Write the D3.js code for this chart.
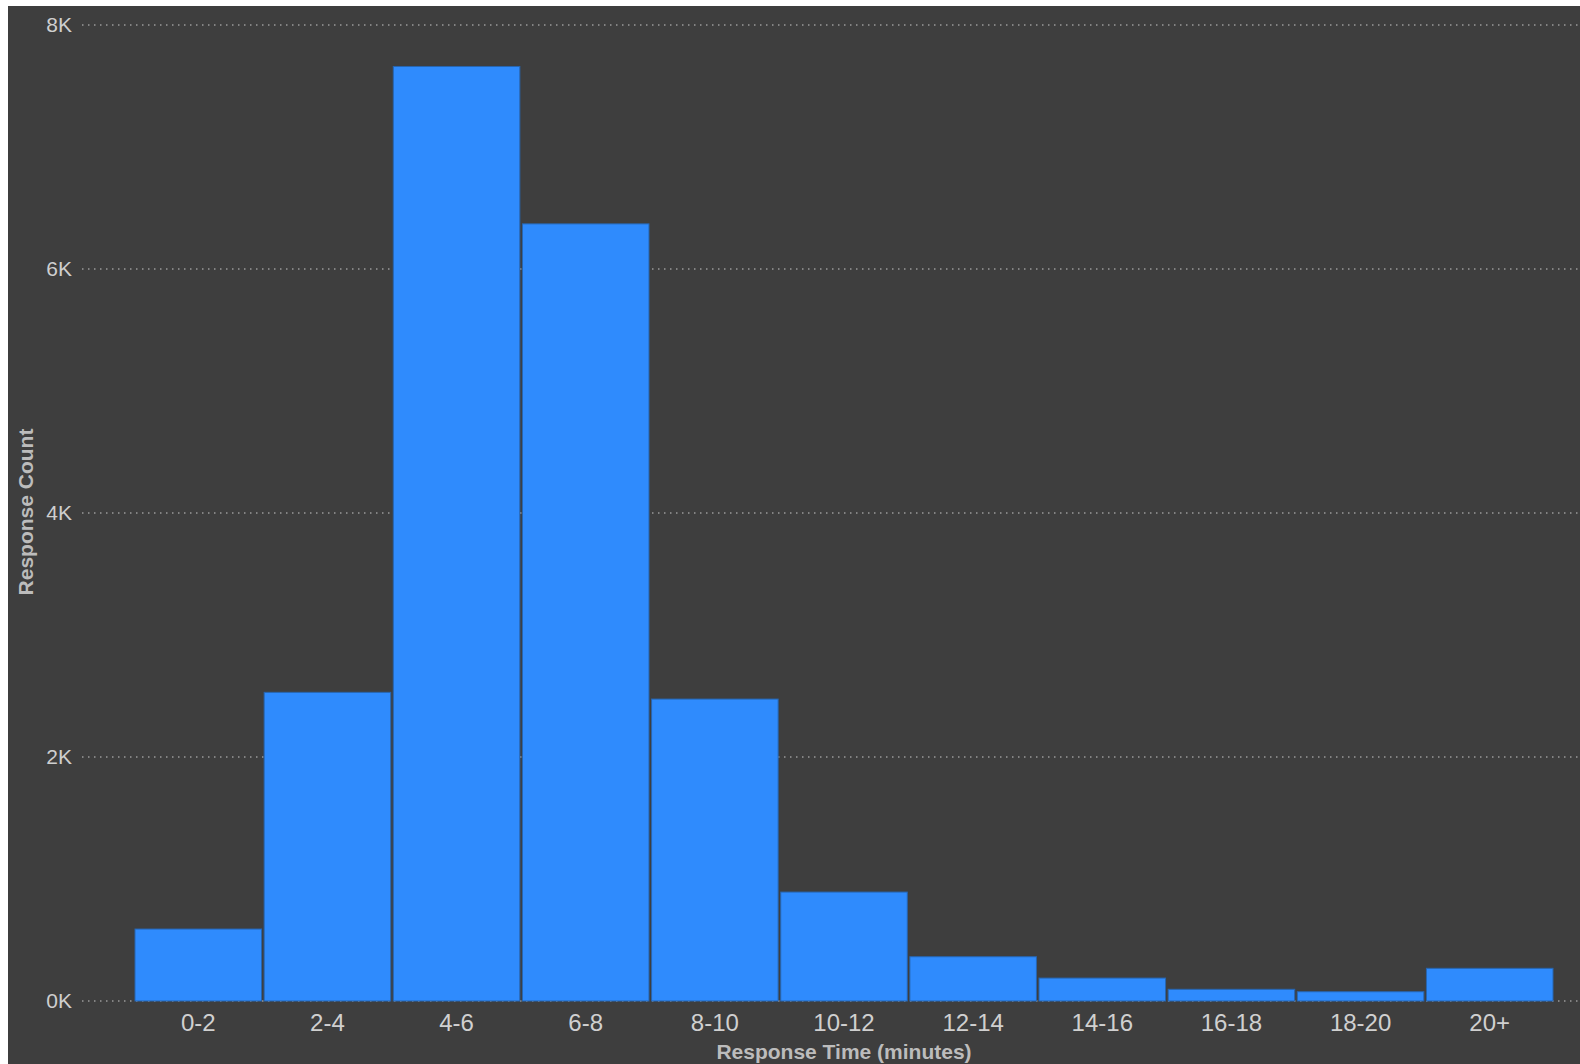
<!DOCTYPE html>
<html>
<head>
<meta charset="utf-8">
<script src="https://cdn.jsdelivr.net/npm/d3@7"></script>
<style>
  html, body { margin: 0; padding: 0; background: #ffffff; }
  svg { display: block; }
</style>
</head>
<body>
<svg id="chart" width="1580" height="1064"></svg>
<script>
const categories = ["0-2","2-4","4-6","6-8","8-10","10-12","12-14","14-16","16-18","18-20","20+"];
const counts = [590, 2530, 7660, 6370, 2475, 893, 363, 188, 96, 76, 268];
const yTicks = [0, 2000, 4000, 6000, 8000];
const xTitle = "Response Time (minutes)";
const yTitle = "Response Count";

const svg = d3.select("#chart");
const W = 1580, H = 1064;

svg.append("rect").attr("x", 8).attr("y", 6).attr("width", W - 8).attr("height", H - 6).attr("fill", "#3e3e3e");

const x = d3.scaleBand().domain(categories).range([135, 1553]).paddingInner(0.02).paddingOuter(0);
const y = d3.scaleLinear().domain([0, 8000]).range([1001, 25]);

// gridlines
svg.append("g").selectAll("line").data(yTicks).join("line")
  .attr("x1", 82).attr("x2", W)
  .attr("y1", d => y(d)).attr("y2", d => y(d))
  .attr("stroke", "#9a9a9a").attr("stroke-width", 1.3)
  .attr("stroke-dasharray", "1.5,4.5");

// y axis
const yAxis = svg.append("g").attr("transform", "translate(72,0)")
  .call(d3.axisLeft(y).tickValues(yTicks).tickSize(0).tickPadding(0).tickFormat(d => (d / 1000) + "K"));
yAxis.select(".domain").remove();
yAxis.selectAll("text").attr("fill", "#cfcfcf").attr("font-family", "Liberation Sans, Arial, sans-serif").attr("font-size", 21);

// bars
svg.append("g").selectAll("rect").data(counts).join("rect")
  .attr("x", (d, i) => x(categories[i]))
  .attr("width", x.bandwidth())
  .attr("y", d => y(d))
  .attr("height", d => y(0) - y(d))
  .attr("fill", "#2f8bfd")
  .attr("stroke", "#2765b0").attr("stroke-width", 1);

// x axis
const xAxis = svg.append("g").attr("transform", "translate(0,1001)")
  .call(d3.axisBottom(x).tickSize(0).tickPadding(13));
xAxis.select(".domain").remove();
xAxis.selectAll("text").attr("fill", "#d0d0d0").attr("font-family", "Liberation Sans, Arial, sans-serif").attr("font-size", 24);

// titles
svg.append("text").attr("x", 844).attr("y", 1059).attr("text-anchor", "middle")
  .attr("fill", "#bcbcbc").attr("font-family", "Liberation Sans, Arial, sans-serif")
  .attr("font-size", 21).attr("font-weight", "bold").text(xTitle);

svg.append("text").attr("transform", "translate(33,512) rotate(-90)").attr("text-anchor", "middle")
  .attr("fill", "#bcbcbc").attr("font-family", "Liberation Sans, Arial, sans-serif")
  .attr("font-size", 21).attr("font-weight", "bold").text(yTitle);
</script>
</body>
</html>
